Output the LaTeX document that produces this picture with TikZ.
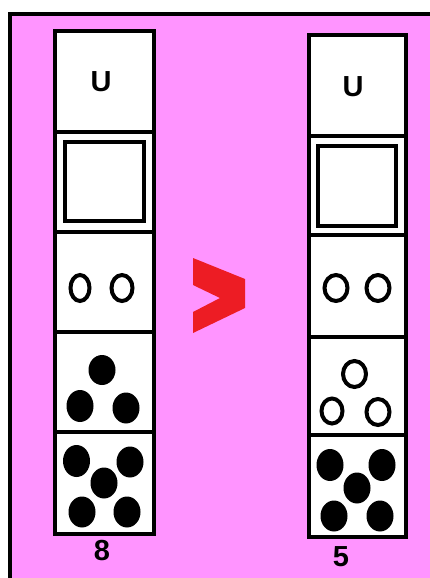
\documentclass[tikz,border=0pt]{standalone}
\usepackage{fontspec}
\setmainfont{Liberation Sans}
\definecolor{bgpink}{RGB}{255,148,255}
\definecolor{chevred}{RGB}{237,28,36}
\begin{document}
\begin{tikzpicture}[x=1pt,y=-1pt,
  cell/.style={draw=black,fill=white,line width=4pt,inner sep=0pt,outer sep=0pt},
  inbox/.style={draw=black,fill=white,line width=4.5pt},
  lbl/.style={inner sep=0pt,font=\fontsize{29}{29}\selectfont\bfseries},
  numlbl/.style={inner sep=0pt,font=\fontsize{29}{29}\selectfont\bfseries},
  opendot/.style={draw=black,line width=4pt},
  fulldot/.style={fill=black}]
\useasboundingbox (0,0) rectangle (430,578);
% background
\fill[white] (0,0) rectangle (430,578);
\fill[bgpink] (10,14) rectangle (430,578);
\draw[line width=4pt] (10,578) -- (10,14) -- (430,14);
% left column cells
\node[cell,minimum width=99pt,minimum height=101pt] (L1) at (104.5,81.5) {};
\node[cell,minimum width=99pt,minimum height=100pt] (L2) at (104.5,182) {};
\node[cell,minimum width=99pt,minimum height=100pt] (L3) at (104.5,282) {};
\node[cell,minimum width=99pt,minimum height=100pt] (L4) at (104.5,382) {};
\node[cell,minimum width=99pt,minimum height=102pt] (L5) at (104.5,483) {};
% right column cells
\node[cell,minimum width=97pt,minimum height=101pt] (R1) at (357.5,85.5) {};
\node[cell,minimum width=97pt,minimum height=99pt] (R2) at (357.5,185.5) {};
\node[cell,minimum width=97pt,minimum height=102pt] (R3) at (357.5,286) {};
\node[cell,minimum width=97pt,minimum height=98pt] (R4) at (357.5,386) {};
\node[cell,minimum width=97pt,minimum height=102pt] (R5) at (357.5,486) {};
% labels
\node[lbl] (LU) at (101,82) {U};
\node[lbl] (RU) at (353,87) {U};
\node[numlbl] (L8) at (102,551) {8};
\node[numlbl] (R5n) at (341,557) {5};
% inner squares
\draw[inbox] (65,142) rectangle (144,221);
\draw[inbox] (318,146) rectangle (396,226);
% row 3 open circles
\draw[opendot] (80,288) ellipse [x radius=9.5, y radius=13];
\draw[opendot] (122,288) ellipse [x radius=10.5, y radius=13];
\draw[opendot] (336,288) ellipse [x radius=11.5, y radius=13];
\draw[opendot] (378,288) ellipse [x radius=11.5, y radius=13];
% left row 4 filled dots
\fill[fulldot] (102,370) ellipse [x radius=13.5, y radius=15];
\fill[fulldot] (80,406) ellipse [x radius=13.5, y radius=16];
\fill[fulldot] (126,408) ellipse [x radius=13.5, y radius=15.5];
% left row 5 filled dots
\fill[fulldot] (76.5,461) ellipse [x radius=13.5, y radius=16];
\fill[fulldot] (130,462) ellipse [x radius=13.5, y radius=15.5];
\fill[fulldot] (104,483) ellipse [x radius=13.5, y radius=15.5];
\fill[fulldot] (82,512) ellipse [x radius=13.5, y radius=15.5];
\fill[fulldot] (127,512) ellipse [x radius=13.5, y radius=15.5];
% right row 4 open dots
\draw[opendot] (354.5,374) ellipse [x radius=11.5, y radius=13];
\draw[opendot] (332,411) ellipse [x radius=10.5, y radius=12.5];
\draw[opendot] (378,412) ellipse [x radius=11.5, y radius=13];
% right row 5 filled dots
\fill[fulldot] (330,465) ellipse [x radius=13.5, y radius=16];
\fill[fulldot] (382,465) ellipse [x radius=13.5, y radius=16];
\fill[fulldot] (357,488) ellipse [x radius=13.5, y radius=15.5];
\fill[fulldot] (334,516) ellipse [x radius=13.5, y radius=15.5];
\fill[fulldot] (380,516) ellipse [x radius=13.5, y radius=15.5];
% red chevron
\fill[chevred] (193,258) -- (245,279) -- (245,308) -- (193,333) -- (193,312) -- (220,298) -- (193,285) -- cycle;
\end{tikzpicture}
\end{document}
